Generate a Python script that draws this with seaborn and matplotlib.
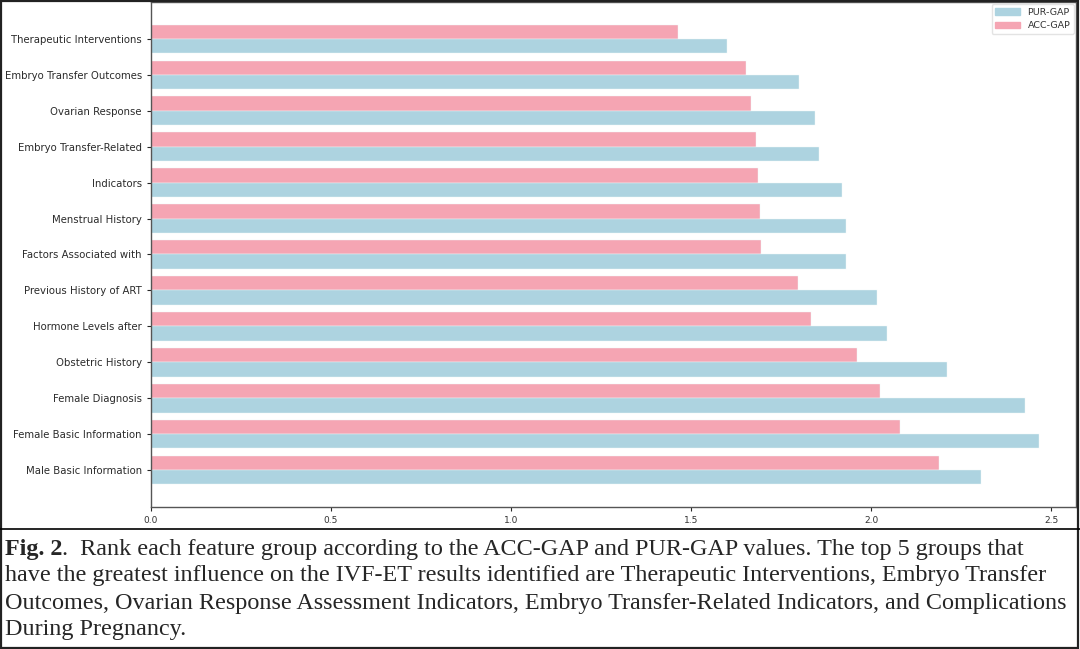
import pandas as pd
import matplotlib.pyplot as plt
import seaborn as sns
from matplotlib.patches import Rectangle
from matplotlib.lines import Line2D

sns.set_theme(style="ticks")
plt.rcParams['font.family'] = ['DejaVu Sans']

groups = [
    "Therapeutic Interventions",
    "Embryo Transfer Outcomes",
    "Ovarian Response",
    "Embryo Transfer-Related",
    "Indicators",
    "Menstrual History",
    "Factors Associated with",
    "Previous History of ART",
    "Hormone Levels after",
    "Obstetric History",
    "Female Diagnosis",
    "Female Basic Information",
    "Male Basic Information",
]
acc_gap = [1.463, 1.652, 1.666, 1.681, 1.685, 1.690, 1.694,
           1.798, 1.834, 1.961, 2.025, 2.080, 2.189]
pur_gap = [1.600, 1.800, 1.844, 1.855, 1.919, 1.929, 1.929,
           2.015, 2.044, 2.212, 2.426, 2.465, 2.304]
x_ticks = [0.0, 0.5, 1.0, 1.5, 2.0, 2.5]

caption_lines = [
    "have the greatest influence on the IVF-ET results identified are Therapeutic Interventions, Embryo Transfer",
    "Outcomes, Ovarian Response Assessment Indicators, Embryo Transfer-Related Indicators, and Complications",
    "During Pregnancy.",
]

df = pd.DataFrame({
    "Group": groups * 2,
    "Value": acc_gap + pur_gap,
    "Metric": ["ACC-GAP"] * len(groups) + ["PUR-GAP"] * len(groups),
})

colors = {"ACC-GAP": "#F5A5B3", "PUR-GAP": "#ADD3E0"}

fig = plt.figure(figsize=(10.8, 6.49), dpi=100)
ax = fig.add_axes([151 / 1080, 1 - 507 / 649, 925 / 1080, 505 / 649])

sns.barplot(data=df, y="Group", x="Value", hue="Metric",
            hue_order=["ACC-GAP", "PUR-GAP"], palette=colors,
            saturation=1, orient="h", width=0.8, linewidth=0.3,
            edgecolor="#eef6f8", ax=ax, legend=False)

ax.set_xlim(0, 2.569)
ax.set_ylim(len(groups) - 1 + 1.03, -1.03)
ax.set_xticks(x_ticks)
ax.set_xticklabels([f"{t:.1f}" for t in x_ticks], fontsize=6.5, color="#333333")
ax.tick_params(axis="y", labelsize=7.3, labelcolor="#2a2a2a", length=3, width=0.8)
ax.tick_params(axis="x", length=3, width=0.8)
ax.set_xlabel("")
ax.set_ylabel("")
for s in ax.spines.values():
    s.set_color("#555555")
    s.set_linewidth(1.0)

handles = [Rectangle((0, 0), 1, 1, color=colors["PUR-GAP"]),
           Rectangle((0, 0), 1, 1, color=colors["ACC-GAP"])]
ax.legend(handles, ["PUR-GAP", "ACC-GAP"], loc="upper right", fontsize=6.8,
          frameon=True, edgecolor="#dddddd", handlelength=2.6,
          borderaxespad=0.2, labelcolor="#333333")

# caption panel
fig.add_artist(Line2D([0, 1], [1 - 529 / 649] * 2, color="black", lw=1.2))
fig.add_artist(Rectangle((0.0008, 0.001), 0.9975, 0.997, transform=fig.transFigure,
                         fill=False, edgecolor="#222222", lw=1.6))

serif = ["Liberation Serif", "DejaVu Serif"]
cap_size = 17.4
y0 = 1 - 549 / 649
t1 = fig.text(5 / 1080, y0, "Fig. 2", fontsize=cap_size, fontweight="bold",
              family=serif, va="center", ha="left")
fig.canvas.draw()
bb = t1.get_window_extent()
fig.text(bb.x1 / 1080, y0,
         ".  Rank each feature group according to the ACC-GAP and PUR-GAP values. The top 5 groups that",
         fontsize=cap_size, family=serif, va="center", ha="left")
for i, line in enumerate(caption_lines):
    fig.text(5 / 1080, 1 - (576 + 27 * i) / 649, line, fontsize=cap_size,
             family=serif, va="center", ha="left")

fig.savefig("out.png", dpi=100)
